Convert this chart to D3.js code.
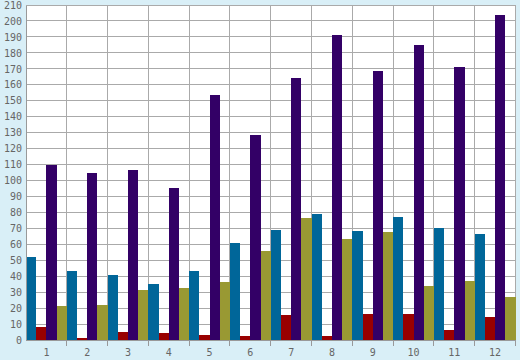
<!DOCTYPE html>
<html><head><meta charset="utf-8">
<script src="https://cdn.jsdelivr.net/npm/d3@7/dist/d3.min.js"></script>
<style>html,body{margin:0;padding:0;background:#d9eff7;}svg{display:block;}</style>
</head><body>
<svg id="c" width="520" height="360"></svg>
<script>
const categories = ["1","2","3","4","5","6","7","8","9","10","11","12"];
const seriesNames = ["blue","red","purple","olive"];
const blueValues   = [52, 43.3, 40.9, 35.1, 43.3, 60.8, 69, 79, 68.3, 77.1, 70.2, 66.5];
const redValues    = [8.2, 1.3, 5, 4.4, 3.1, 2.5, 15.7, 2.5, 16.3, 16.3, 6.3, 14.4];
const purpleValues = [109.7, 104.7, 106.6, 95.3, 153.6, 128.5, 164.3, 191.2, 168.7, 185, 171.2, 203.8];
const oliveValues  = [21.3, 21.9, 31.3, 32.6, 36.4, 55.8, 76.5, 63.3, 67.7, 33.9, 37, 27];
const yTicks = d3.range(0, 211, 10);
const colors = {blue:"#006699", red:"#990000", purple:"#330066", olive:"#999933"};

const series = {blue: blueValues, red: redValues, purple: purpleValues, olive: oliveValues};
const svg = d3.select("#c");
const L = 26, R = 515.5, T = 5, B = 340;
const x = d3.scaleBand().domain(categories).range([L, R]).padding(0);
const xs = d3.scaleBand().domain(seriesNames).range([0, x.bandwidth()]).padding(0);
const y = d3.scaleLinear().domain([0, 210]).range([B, T]);

svg.append("rect").attr("x", L).attr("y", T).attr("width", R - L).attr("height", B - T).attr("fill", "#fff");

const grid = svg.append("g").attr("stroke", "#aaaaaa").attr("stroke-width", 1).attr("shape-rendering", "crispEdges");
yTicks.forEach(t => grid.append("line").attr("x1", L).attr("x2", R).attr("y1", y(t)).attr("y2", y(t)));
categories.forEach(c => grid.append("line").attr("x1", x(c)).attr("x2", x(c)).attr("y1", T).attr("y2", B));
grid.append("line").attr("x1", R).attr("x2", R).attr("y1", T).attr("y2", B);

const bars = svg.append("g").attr("shape-rendering", "crispEdges");
categories.forEach((c, i) => {
  seriesNames.forEach(s => {
    const v = series[s][i];
    bars.append("rect")
      .attr("x", x(c) + xs(s))
      .attr("width", xs.bandwidth())
      .attr("y", y(v))
      .attr("height", y(0) - y(v))
      .attr("fill", colors[s]);
  });
});

// axes
const xAxis = d3.axisBottom(x).tickSize(0).tickPadding(9);
const gx = svg.append("g").attr("transform", `translate(0,${B})`).call(xAxis);
gx.select(".domain").attr("stroke", "#999").attr("shape-rendering", "crispEdges");
gx.selectAll("text").attr("fill", "#666").style("font-family", "DejaVu Sans Mono").style("font-size", "10px");
// boundary ticks
const bt = svg.append("g").attr("stroke", "#999").attr("shape-rendering", "crispEdges");
categories.slice(1).concat(["end"]).forEach((c, i) => {
  const xx = c === "end" ? R : x(c);
  bt.append("line").attr("x1", xx).attr("x2", xx).attr("y1", B).attr("y2", B + 6);
});

const yAxis = d3.axisLeft(y).tickValues(yTicks).tickSize(0).tickPadding(4).tickFormat(d3.format("d"));
const gy = svg.append("g").attr("transform", `translate(${L},0)`).call(yAxis);
gy.select(".domain").attr("stroke", "#999").attr("shape-rendering", "crispEdges");
gy.selectAll("text").attr("fill", "#666").style("font-family", "DejaVu Sans Mono").style("font-size", "10px");
</script>
</body></html>
